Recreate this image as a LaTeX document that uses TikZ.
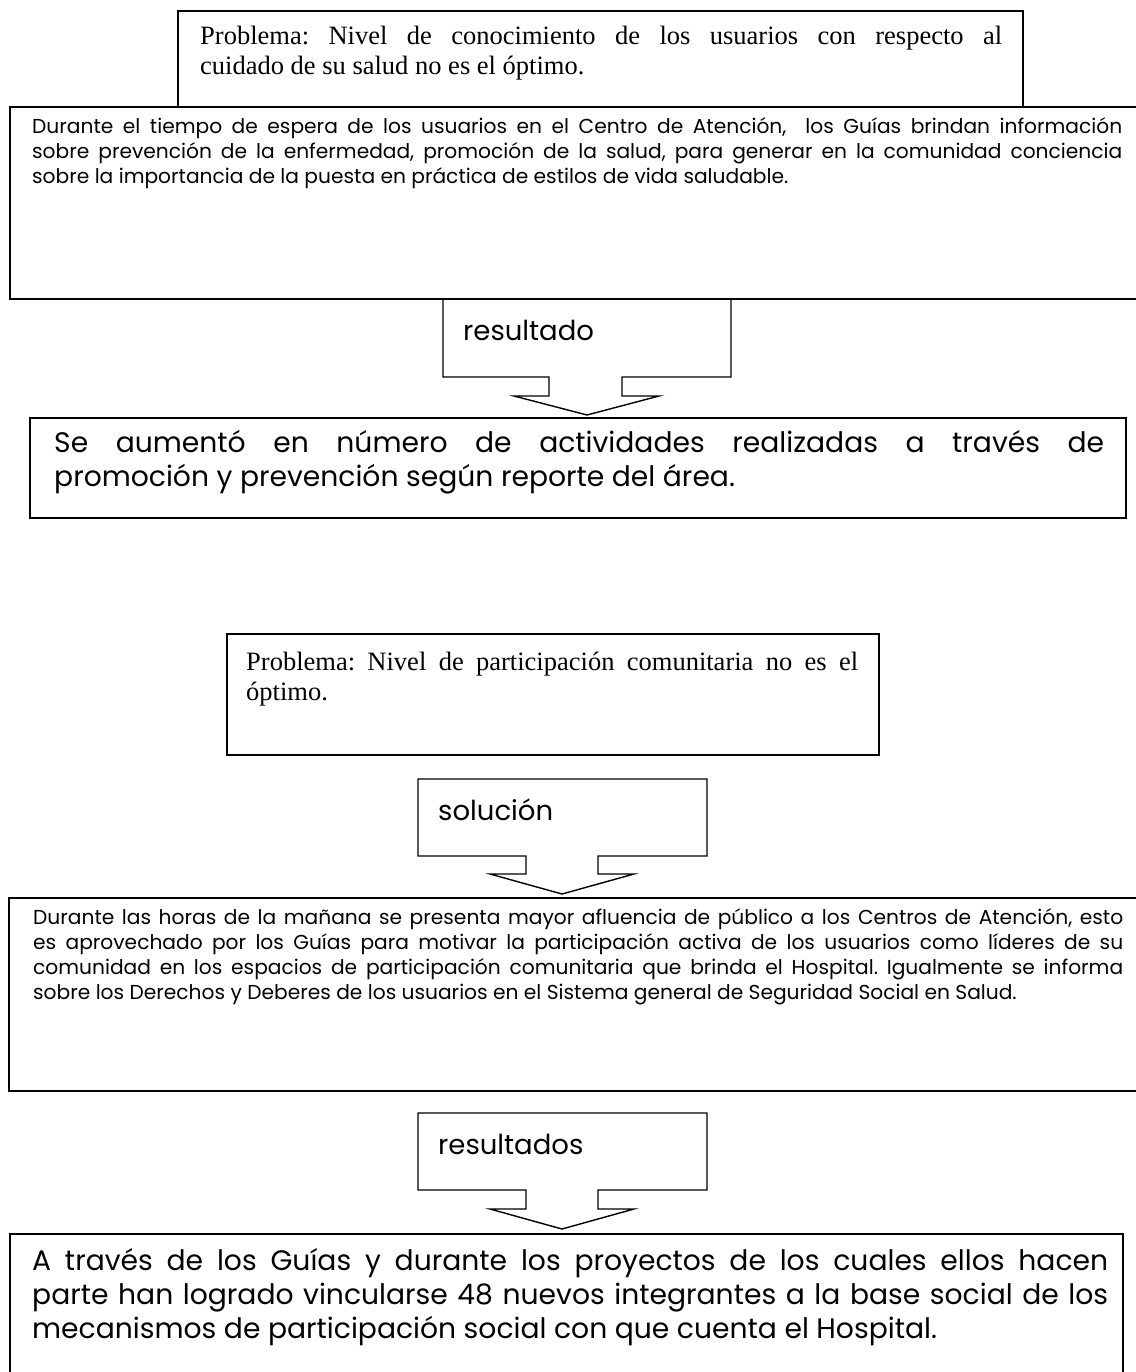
\documentclass[tikz,border=0pt]{standalone}
\usepackage{fontspec}
\setmainfont{Liberation Serif}
\newfontfamily\gothic{Poppins}
\usetikzlibrary{positioning}
\hyphenpenalty=10000
\exhyphenpenalty=10000
\frenchspacing

\tikzset{
    frame/.style={draw, line width=1.4pt, fill=white, inner sep=0pt, outer sep=0pt, anchor=north west},
    serif text/.style={inner sep=0pt, text width=#1, align=justify,
        font=\fontsize{26.5}{30}\selectfont, execute at begin node=\strut},
    small text/.style={inner sep=0pt, text width=#1, align=justify,
        font=\gothic\fontsize{20.2}{25}\selectfont, execute at begin node=\strut},
    big text/.style={inner sep=0pt, text width=#1, align=justify,
        font=\gothic\fontsize{28.2}{34}\selectfont, execute at begin node=\strut},
    tag/.style={inner sep=0pt, anchor=base west, font=\gothic\fontsize{27.5}{34}\selectfont},
    callout/.style={draw, line width=1.4pt, line join=miter},
}

\begin{document}
\begin{tikzpicture}[x=1pt, y=-1pt]
    \useasboundingbox (0,0) rectangle (1135,1372);

    \node (p1frame) [frame, minimum width=845pt, minimum height=96pt] at (178,11) {};
    \node (p1text) [serif text=802pt, below right=12pt and 22pt of p1frame.north west]
        {Problema: Nivel de conocimiento de los usuarios con respecto al\linebreak cuidado de su salud no es el óptimo.};

    \node (s1frame) [frame, minimum width=1135pt, minimum height=192pt] at (10,107) {};
    \node (s1text) [small text=1090pt, below right=8.5pt and 22pt of s1frame.north west]
        {Durante el tiempo de espera de los usuarios en el Centro de Atención,\ \ los Guías brindan información\linebreak sobre prevención de la enfermedad, promoción de la salud, para generar en la comunidad conciencia\linebreak sobre la importancia de la puesta en práctica de estilos de vida saludable.};

    \draw [callout] (443,299) -- (731,299) -- (731,377) -- (622,377) -- (622,396) -- (659,396)
        -- (587,415) -- (514,396) -- (549,396) -- (549,377) -- (443,377) -- cycle;
    \node (res1) [tag] at (463,340) {resultado};

    \node (r1frame) [frame, minimum width=1096pt, minimum height=100pt] at (30,418) {};
    \node (r1text) [big text=1050pt, below right=10.2pt and 24pt of r1frame.north west]
        {Se aumentó en número de actividades realizadas a través de\linebreak promoción y prevención según reporte del área.};

    \node (p2frame) [frame, minimum width=652pt, minimum height=121pt] at (227,634) {};
    \node (p2text) [serif text=612pt, below right=15pt and 19pt of p2frame.north west]
        {Problema: Nivel de participación comunitaria no es el\linebreak óptimo.};

    \draw [callout] (418,779) -- (707,779) -- (707,856) -- (598,856) -- (598,874) -- (634,874)
        -- (562,894) -- (490,874) -- (526,874) -- (526,856) -- (418,856) -- cycle;
    \node (sol) [tag] at (438,820) {solución};

    \node (s2frame) [frame, minimum width=1136pt, minimum height=193pt] at (9,898) {};
    \node (s2text) [small text=1090pt, below right=8.5pt and 24pt of s2frame.north west]
        {Durante las horas de la mañana se presenta mayor afluencia de público a los Centros de Atención, esto\linebreak es aprovechado por los Guías para motivar la participación activa de los usuarios como líderes de su\linebreak comunidad en los espacios de participación comunitaria que brinda el Hospital. Igualmente se informa\linebreak sobre los Derechos y Deberes de los usuarios en el Sistema general de Seguridad Social en Salud.};

    \draw [callout] (418,1113) -- (707,1113) -- (707,1190) -- (598,1190) -- (598,1209) -- (634,1209)
        -- (562,1229) -- (490,1209) -- (526,1209) -- (526,1190) -- (418,1190) -- cycle;
    \node (res2) [tag] at (438,1154) {resultados};

    \node (r2frame) [frame, minimum width=1113pt, minimum height=170pt] at (10,1234) {};
    \node (r2text) [big text=1076pt, below right=12.2pt and 22pt of r2frame.north west]
        {A través de los Guías y durante los proyectos de los cuales ellos hacen\linebreak parte han logrado vincularse 48 nuevos integrantes a la base social de los\linebreak mecanismos de participación social con que cuenta el Hospital.};
\end{tikzpicture}
\end{document}
